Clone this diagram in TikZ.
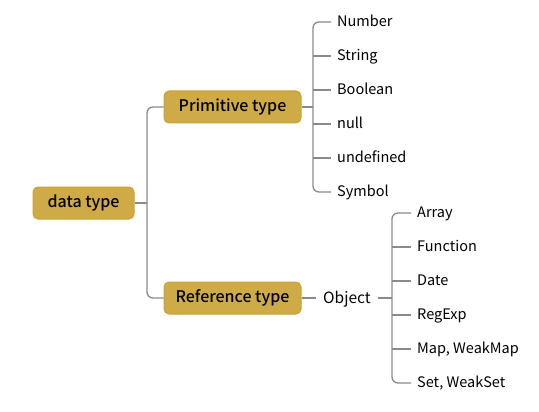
\documentclass[tikz,border=0pt]{standalone}
\usepackage{fontspec}
\setmainfont{Noto Sans CJK SC}
\newfontfamily\medfont{Noto Sans CJK SC Medium}
\definecolor{boxfill}{HTML}{CFAB47}
\definecolor{boxline}{HTML}{C9A232}
\definecolor{linegray}{HTML}{8A8A8A}
\tikzset{
	topic/.style={draw=boxline, fill=boxfill, line width=1pt, rounded corners=5pt,
		minimum height=32pt, inner sep=0pt, font=\fontsize{16}{19}\medfont},
	leaf/.style={anchor=west, inner xsep=6pt, inner ysep=2pt, text height=12.5pt, text depth=3pt,
		font=\fontsize{14.5}{17}\selectfont},
	branch/.style={draw=linegray, line width=1.3pt, rounded corners=6pt}
}
\begin{document}
\begin{tikzpicture}[x=1pt,y=-1pt]
\useasboundingbox (0,0) rectangle (539,412);

\node [topic, minimum width=101pt] (dt)   at (83.5,203) {data type};
\node [topic, minimum width=137pt] (prim) at (232.5,107) {Primitive type};
\node [topic, minimum width=137pt] (ref)  at (232.5,298) {Reference type};

\coordinate (dj) at (147,203);
\draw [branch] (dt.east) to (dj);
\draw [branch] (prim.west) -- (dj |- prim.west) |- (ref.west);

%%%%%%%%%%%%%%%%%%%%%%%%%%%%%%%%%%%%%%%%%%

\foreach \name/\txt [count=\i] in {num/Number, str/String, bool/Boolean,
	nul/null, und/undefined, sym/Symbol}
	\node [leaf] (\name) at (331,{22+34*(\i-1)}) {\txt};

\coordinate (pj) at (313,107);
\draw [branch] (prim.east) to (pj);
\draw [branch] (num.west) -- (pj |- num.west) |- (sym.west);
\foreach \name in {str, bool, nul, und}
	\draw [branch] (pj |- \name.west) to (\name.west);

%%%%%%%%%%%%%%%%%%%%%%%%%%%%%%%%%%%%%%%%%%

\node [font=\fontsize{15.5}{18}\selectfont, inner xsep=7.5pt, text height=13pt, text depth=3pt]
	(obj) at (347,298) {Object};
\draw [branch] (ref.east) to (obj.west);

\foreach \name/\txt [count=\i] in {arr/Array, fun/Function, date/Date,
	reg/RegExp, map/{Map, WeakMap}, set/{Set, WeakSet}}
	\node [leaf] (\name) at (411,{213+34*(\i-1)}) {\txt};

\coordinate (oj) at (392,298);
\draw [branch] (obj.east) to (oj);
\draw [branch] (arr.west) -- (oj |- arr.west) |- (set.west);
\foreach \name in {fun, date, reg, map}
	\draw [branch] (oj |- \name.west) to (\name.west);

\end{tikzpicture}
\end{document}
